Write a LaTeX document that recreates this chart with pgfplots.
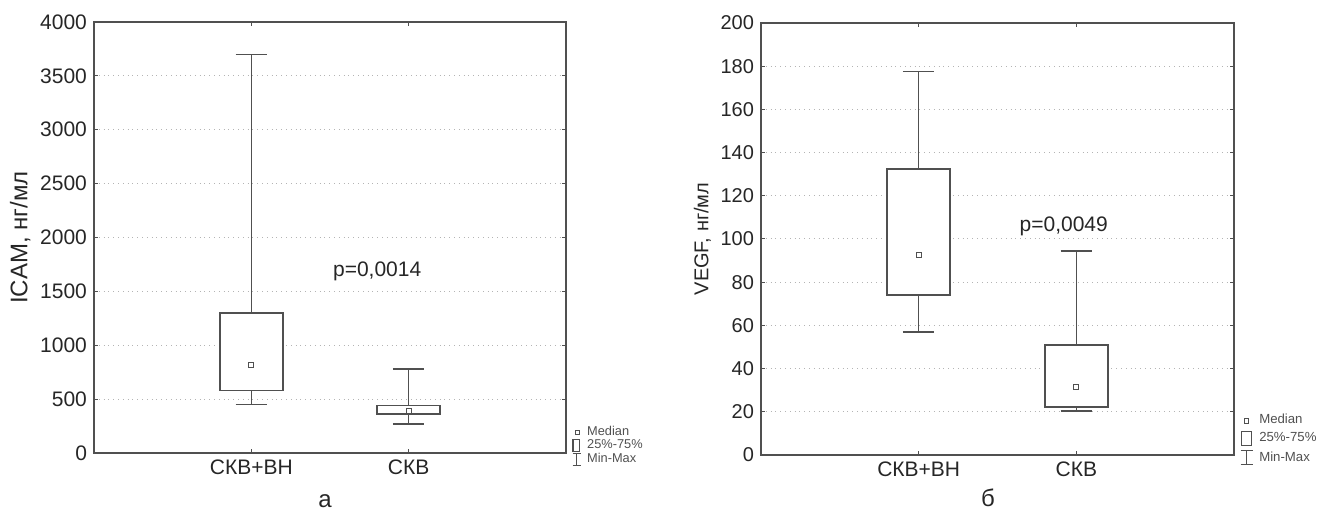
\documentclass[border=0pt]{standalone}
\usepackage{pgfplots}
\pgfplotsset{compat=1.18}
\usepgfplotslibrary{statistics}
\usepackage{fontspec}
\setmainfont{Liberation Sans}
\definecolor{ln}{HTML}{505050}
\definecolor{gr}{HTML}{B4B4B4}
\pgfplotsset{
  mystyle/.style={
    scale only axis, anchor=south west,
    xmin=0, xmax=3, ymin=0,
    xtick={1,2}, xticklabels={СКВ+ВН,СКВ},
    axis line style={ln, line width=0.9pt},
    tick style={ln, line width=0.5pt},
    major tick length=2pt,
    ymajorgrids, grid style={gr, dotted, line width=0.5pt},
    /pgf/number format/assume math mode=true,
    /pgf/number format/1000 sep={},
    scaled y ticks=false,
    boxplot/draw direction=y,
    boxplot/box extend=0.4,
    boxplot/whisker extend=0.2,
    boxplot/draw/median/.code={},
    boxplot/every whisker/.style={line width=0.8pt, draw=ln},
    boxplot/every box/.style={line width=0.85pt, draw=ln, fill=white},
    legend cell align=left,
    legend style={draw=none, fill=none, inner sep=0pt,
      nodes={inner sep=0pt, text=ln},
      /tikz/every odd column/.append style={column sep=3pt}},
  },
  bx/.style={forget plot, draw=ln, line width=0.8pt, fill=white, solid},
  md/.style={forget plot, only marks, mark=square, mark size=1.3pt, mark options={ln, line width=0.5pt}},
}
\begin{document}
\begin{tikzpicture}
\useasboundingbox (0,0) rectangle (660pt,259pt);
% ---------- panel a ----------
\begin{axis}[mystyle, at={(47pt,32.5pt)}, width=236pt, height=215.5pt,
  ymax=4000, ytick={0,500,...,4000},
  yticklabel style={font=\fontsize{10.5}{12}\selectfont, text=black!85},
  xticklabel style={font=\fontsize{10.5}{12}\selectfont, text=black!85},
  ylabel={ICAM, нг/мл},
  ylabel style={font=\fontsize{12}{14}\selectfont, text=black!85, yshift=-2pt},
  legend style={at={(1.012,0.016)}, anchor=west, font=\fontsize{6.4}{6.5}\selectfont,
    row sep=0.3pt},
]
\addlegendimage{legend image code/.code={\draw[ln, line width=0.45pt] (1.4pt,-1.1pt) rectangle (3.4pt,1.1pt);}}
\addlegendentry{Median}
\addlegendimage{legend image code/.code={\draw[ln, line width=0.55pt] (0.2pt,-3pt) rectangle (3.6pt,3pt);}}
\addlegendentry{25\%-75\%}
\addlegendimage{legend image code/.code={\draw[ln, line width=0.55pt] (0pt,3pt)--(4pt,3pt) (2pt,3pt)--(2pt,-3pt) (0pt,-3pt)--(4pt,-3pt);}}
\addlegendentry{Min-Max}
\addplot+[bx, boxplot prepared={draw position=1, lower whisker=450, lower quartile=580, median=820, upper quartile=1300, upper whisker=3700}] coordinates {};
\addplot+[bx, boxplot prepared={draw position=2, lower whisker=270, lower quartile=360, median=390, upper quartile=440, upper whisker=780}] coordinates {};
\addplot[md] coordinates {(1,820) (2,390)};
\node[font=\fontsize{10.5}{12}\selectfont, text=black!85] at (axis cs:1.80,1690) {p=0,0014};
\end{axis}
% ---------- panel b ----------
\begin{axis}[mystyle, at={(380.5pt,31.5pt)}, width=236.5pt, height=216pt,
  ymax=200, ytick={0,20,...,200},
  yticklabel style={font=\fontsize{10}{12}\selectfont, text=black!85},
  xticklabel style={font=\fontsize{10.5}{12}\selectfont, text=black!85},
  ylabel={VEGF, нг/мл},
  ylabel style={font=\fontsize{10}{12}\selectfont, text=black!85, yshift=-2pt},
  legend style={at={(1.012,0.035)}, anchor=west, font=\fontsize{6.6}{7}\selectfont,
    row sep=2pt},
]
\addlegendimage{legend image code/.code={\draw[ln, line width=0.45pt] (1.8pt,-1.2pt) rectangle (4pt,1.2pt);}}
\addlegendentry{Median}
\addlegendimage{legend image code/.code={\draw[ln, line width=0.6pt] (0.3pt,-3.5pt) rectangle (5.5pt,3.5pt);}}
\addlegendentry{25\%-75\%}
\addlegendimage{legend image code/.code={\draw[ln, line width=0.6pt] (0pt,3.5pt)--(6pt,3.5pt) (3pt,3.5pt)--(3pt,-3.5pt) (0pt,-3.5pt)--(6pt,-3.5pt);}}
\addlegendentry{Min-Max}
\addplot+[bx, boxplot prepared={draw position=1, lower whisker=57, lower quartile=74, median=92.6, upper quartile=132.5, upper whisker=177.5}] coordinates {};
\addplot+[bx, boxplot prepared={draw position=2, lower whisker=20.5, lower quartile=22.2, median=31.5, upper quartile=51, upper whisker=94.5}] coordinates {};
\addplot[md] coordinates {(1,92.6) (2,31.5)};
\node[font=\fontsize{10.5}{12}\selectfont, text=black!85] at (axis cs:1.92,106) {p=0,0049};
\end{axis}
\node[font=\fontsize{12}{14}\selectfont, text=black!85] at (162.5pt,8.5pt) {а};
\node[font=\fontsize{12}{14}\selectfont, text=black!85] at (494pt,10pt) {б};
\end{tikzpicture}
\end{document}
